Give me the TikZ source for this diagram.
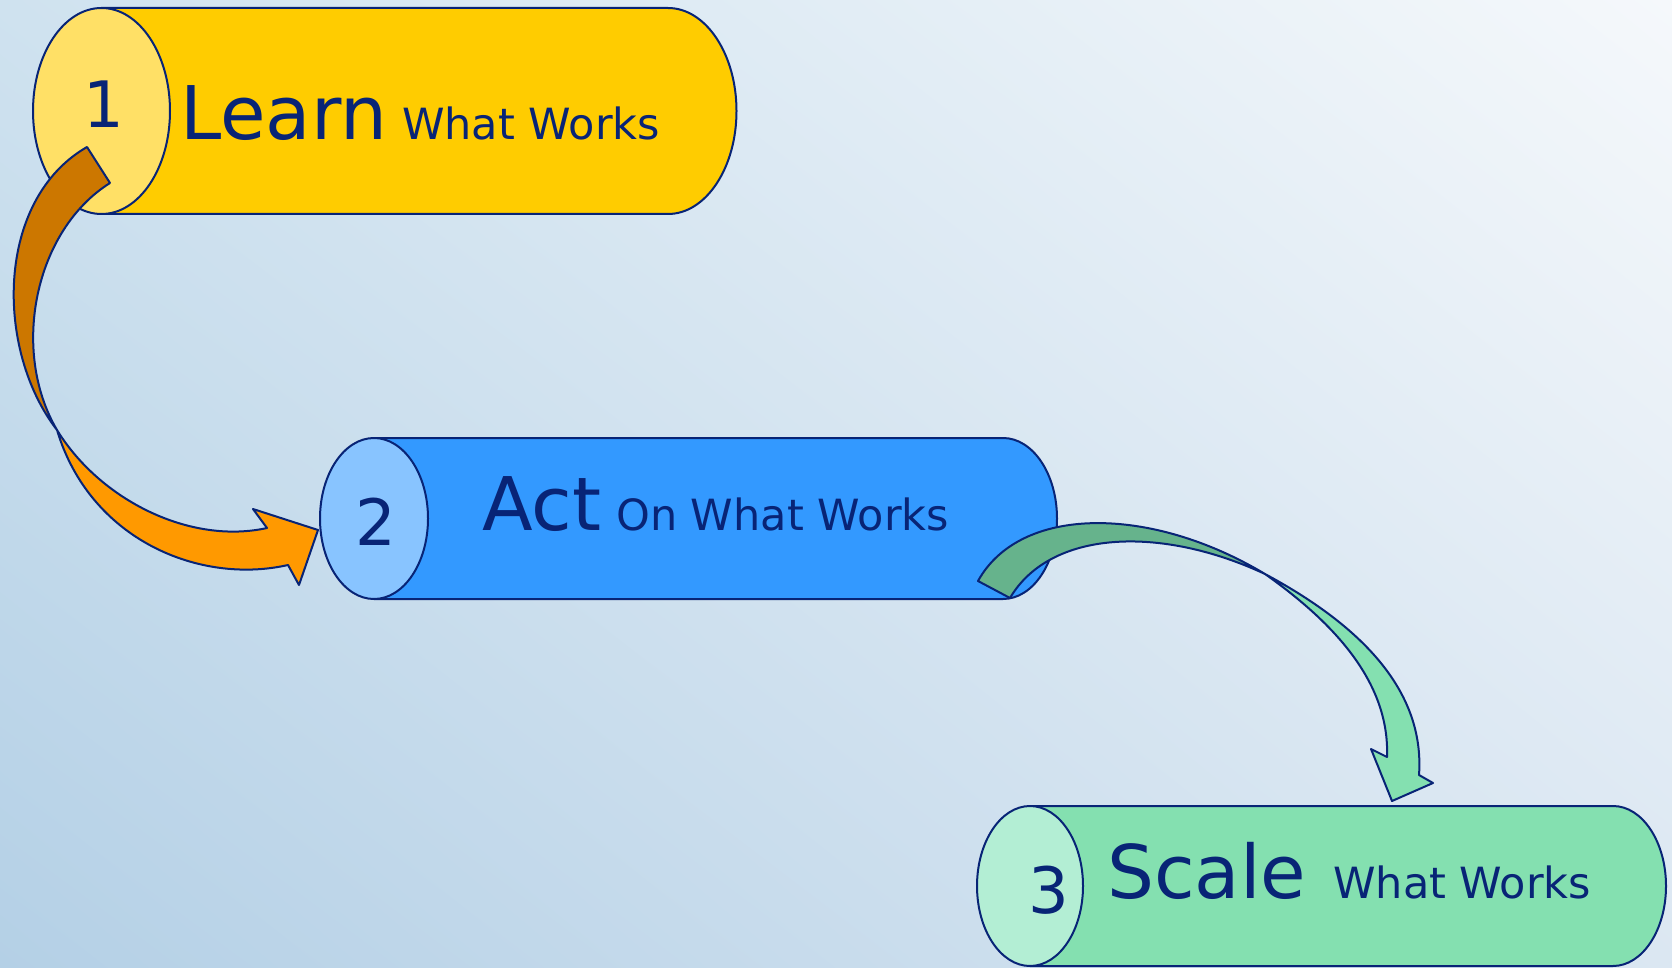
\documentclass[tikz,border=0pt]{standalone}
\usepackage{fontspec}
\setmainfont{DejaVu Sans}
\usetikzlibrary{shapes.geometric,shadings}
\definecolor{navy}{RGB}{8,36,118}
\definecolor{ybody}{HTML}{FFCC00}
\definecolor{yface}{HTML}{FFE066}
\definecolor{bbody}{HTML}{3399FF}
\definecolor{bface}{HTML}{88C4FF}
\definecolor{gbody}{HTML}{84E0B0}
\definecolor{gface}{HTML}{B3EED4}
\definecolor{odark}{HTML}{CC7700}
\definecolor{olight}{HTML}{FF9900}
\definecolor{gdark}{HTML}{66B38C}
\definecolor{glight}{HTML}{84E0B0}
\definecolor{bgTL}{HTML}{CFE2EF}
\definecolor{bgTR}{HTML}{F5F8FB}
\definecolor{bgBL}{HTML}{B4D0E6}
\definecolor{bgBR}{HTML}{DBE7F2}
\tikzset{
  outl/.style={draw=navy, line width=2pt, line join=round},
  face/.style={outl, ellipse, inner sep=0pt},
  num/.style={text=navy, anchor=base, inner sep=0pt, font=\fontsize{64}{70}\selectfont},
  big/.style={text=navy, anchor=base west, inner sep=0pt, font=\fontsize{74}{80}\selectfont},
  small/.style={text=navy, anchor=base west, inner sep=0pt, font=\fontsize{43}{50}\selectfont},
}
\begin{document}
\begin{tikzpicture}[x=1pt, y=-1pt]
\useasboundingbox (0,0) rectangle (1672,968);
\begin{scope}[y=1pt]
\shade[upper left=bgTL, upper right=bgTR, lower left=bgBL, lower right=bgBR] (0,-968) rectangle (1672,0);
\end{scope}

% cylinder 1
\path[outl, fill=ybody] (101.5,8) -- (668,8) arc[start angle=-90, end angle=90, x radius=68.5, y radius=103] -- (101.5,214) -- cycle;
\node[face, fill=yface, minimum width=137pt, minimum height=206pt] (c1) at (101.5,111) {};
\node[num] (n1) at (104,128) {1};
\node[big] (t1) at (180,140) {Learn};
\node[small] (s1) at (402,140) {What Works};

% cylinder 2
\path[outl, fill=bbody] (374,438) -- (1003,438) arc[start angle=-90, end angle=90, x radius=54, y radius=80.5] -- (374,599) -- cycle;
\node[face, fill=bface, minimum width=108pt, minimum height=161pt] (c2) at (374,518.5) {};
\node[num] (n2) at (376,545) {2};
\node[big] (t2) at (482,530) {Act};
\node[small] (s2) at (616,530) {On What Works};

% cylinder 3
\path[outl, fill=gbody] (1030,806) -- (1613,806) arc[start angle=-90, end angle=90, x radius=53, y radius=80] -- (1030,966) -- cycle;
\node[face, fill=gface, minimum width=106pt, minimum height=160pt] (c3) at (1030,886) {};
\node[num] (n3) at (1049,913) {3};
\node[big] (t3) at (1107,898) {Scale};
\node[small] (s3) at (1333,898) {What Works};

% arrow 1 : back face
\path[outl, fill=odark] (87,147) -- (110,183)
  .. controls (35,230) and (10,350) .. (57,430)
  .. controls (-5,350) and (-5,200) .. (87,147) -- cycle;
% arrow 1 : front face
\path[outl, fill=olight] (57,430)
  .. controls (100,500) and (190,545) .. (267,528)
  -- (253,509) -- (318,530) -- (299,585) -- (288,565)
  .. controls (200,585) and (90,540) .. (57,430) -- cycle;

% arrow 2 : back face
\path[outl, fill=gdark] (978,581) -- (1010,598)
  .. controls (1050,530) and (1160,525) .. (1265,574)
  .. controls (1150,505) and (1020,505) .. (978,581) -- cycle;
% arrow 2 : front face
\path[outl, fill=glight] (1265,574)
  .. controls (1360,625) and (1425,690) .. (1419,775)
  -- (1433,783) -- (1392,801) -- (1371,749) -- (1387,757)
  .. controls (1390,680) and (1330,620) .. (1265,574) -- cycle;
\end{tikzpicture}
\end{document}
